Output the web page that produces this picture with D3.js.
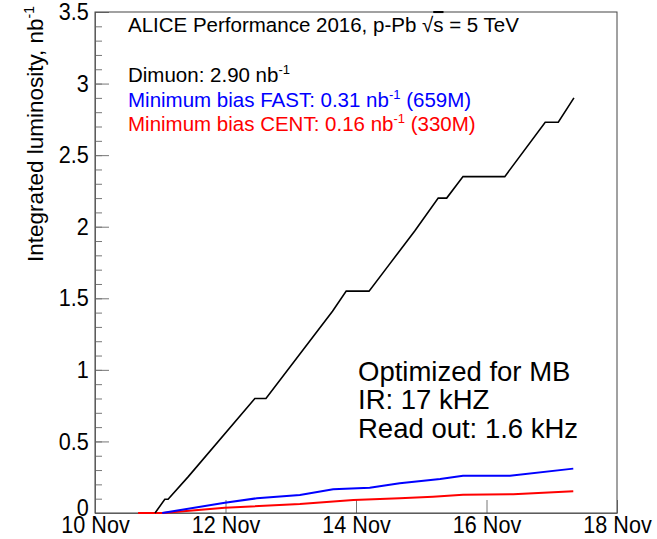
<!DOCTYPE html>
<html>
<head>
<meta charset="utf-8">
<script src="https://cdn.jsdelivr.net/npm/d3@7"></script>
<style>
  body { margin: 0; background: #fff; }
  svg text { font-family: "Liberation Sans", Arial, sans-serif; }
  .axis path, .axis line { stroke: #777; }
  .axis text { fill: #000; font-size: 24px; }
</style>
</head>
<body>
<div id="chart"></div>
<script>
// day of November 2016 vs integrated luminosity (nb^-1)
var dimuonDay  = [10.92, 11.07, 11.12, 11.43, 12.45, 12.62, 13.64, 13.85, 14.20, 14.50, 14.90, 15.26, 15.39, 15.64, 16.28, 16.90, 17.10, 17.34]
var dimuonLumi = [0, 0.096, 0.096, 0.254, 0.80, 0.80, 1.41, 1.55, 1.55, 1.73, 1.97, 2.20, 2.20, 2.35, 2.35, 2.73, 2.73, 2.90]

var fastDay  = [11.03, 11.99, 12.48, 13.14, 13.65, 14.21, 14.67, 15.29, 15.64, 16.36, 17.33]
var fastLumi = [0, 0.072, 0.103, 0.126, 0.166, 0.177, 0.208, 0.238, 0.260, 0.260, 0.31]

var centDay  = [10.66, 11.04, 11.99, 13.14, 13.96, 14.67, 15.18, 15.64, 16.41, 17.33]
var centLumi = [0, 0, 0.037, 0.063, 0.091, 0.103, 0.114, 0.128, 0.131, 0.152]

var xTicks = [10, 12, 14, 16, 18]
var yTicks = [0, 0.5, 1, 1.5, 2, 2.5, 3, 3.5]

var config = { width: 657, height: 539 }
var margin = { left: 95, right: 40, top: 12, bottom: 26 }
var width = config.width - margin.left - margin.right,
    height = config.height - margin.top - margin.bottom

var svg = d3.select("#chart").append("svg")
    .attr("width", config.width)
    .attr("height", config.height)

var chart = svg.append("g")
    .attr("transform", "translate(" + margin.left + "," + margin.top + ")")

var x = d3.scaleLinear()
    .domain([10, 18])
    .range([0, width])

var y = d3.scaleLinear()
    .domain([0, 3.5])
    .range([height, 0])

// minor y ticks every 0.1
chart.append("g")
    .attr("class", "axis")
    .call(d3.axisLeft(y).ticks(35).tickSizeInner(-7).tickSizeOuter(0).tickFormat(""))

var yAxis = chart.append("g")
    .attr("class", "axis")
    .call(d3.axisLeft(y).tickValues(yTicks).tickSizeInner(-14).tickSizeOuter(0).tickPadding(7)
        .tickFormat(d => String(d)))

// ROOT-like narrow labels
yAxis.selectAll("text").attr("transform", "scale(0.9,1)")
yAxis.selectAll("text").filter(d => d === 0).attr("dy", "0.1em")

var xAxis = chart.append("g")
    .attr("class", "axis")
    .attr("transform", "translate(0," + height + ")")
    .call(d3.axisBottom(x).tickValues(xTicks).tickSizeInner(-13).tickSizeOuter(0).tickPadding(3)
        .tickFormat(d => d + " Nov"))

xAxis.selectAll("text").attr("transform", "scale(0.9,1)")

// frame
chart.append("rect")
    .attr("width", width)
    .attr("height", height)
    .attr("fill", "none")
    .attr("stroke", "#444")

var line = d3.line()
    .x(d => x(d[0]))
    .y(d => y(d[1]))

var series = [
    { day: centDay, lumi: centLumi, color: "#ff0000", w: 2 },
    { day: fastDay, lumi: fastLumi, color: "#0000ff", w: 2 },
    { day: dimuonDay, lumi: dimuonLumi, color: "#000000", w: 1.6 }
]

series.forEach(function(s){
    chart.append("path")
        .datum(s.day.map((d, i) => [d, s.lumi[i]]))
        .attr("fill", "none")
        .attr("stroke", s.color)
        .attr("stroke-width", s.w)
        .attr("d", line)
})

// y title
var yTitle = svg.append("text")
    .attr("transform", "translate(43,6) rotate(-90)")
    .attr("text-anchor", "end")
    .attr("font-size", "22.5px")
yTitle.append("tspan").text("Integrated luminosity, nb")
yTitle.append("tspan").attr("font-size", "14px").attr("dy", "-9").text("-1")

// header
var header = svg.append("text")
    .attr("x", 128)
    .attr("y", 32)
    .attr("font-size", "20.5px")
header.append("tspan").text("ALICE Performance 2016, p-Pb  √")
header.append("tspan").style("text-decoration", "overline").text("s")
header.append("tspan").text(" = 5 TeV")

// legend lines
var legendRows = [
    { pre: "Dimuon: 2.90 nb", post: "", color: "#000" },
    { pre: "Minimum bias FAST: 0.31 nb", post: " (659M)", color: "#0000ff" },
    { pre: "Minimum bias CENT: 0.16 nb", post: " (330M)", color: "#ff0000" }
]

legendRows.forEach(function(r, i){
    var t = svg.append("text")
        .attr("x", 128)
        .attr("y", 82 + i * 24.5)
        .attr("font-size", "20.5px")
        .attr("fill", r.color)
    t.append("tspan").text(r.pre)
    t.append("tspan").attr("font-size", "13px").attr("dy", "-8").text("-1")
    t.append("tspan").attr("dy", "8").text(r.post)
})

// run conditions
var notes = ["Optimized for MB", "IR: 17 kHZ", "Read out: 1.6 kHz"]
svg.selectAll(".note")
    .data(notes)
    .enter()
    .append("text")
    .attr("class", "note")
    .attr("x", 358)
    .attr("y", (d, i) => 381 + i * 28.3)
    .attr("font-size", "27.5px")
    .text(d => d)
</script>
</body>
</html>
